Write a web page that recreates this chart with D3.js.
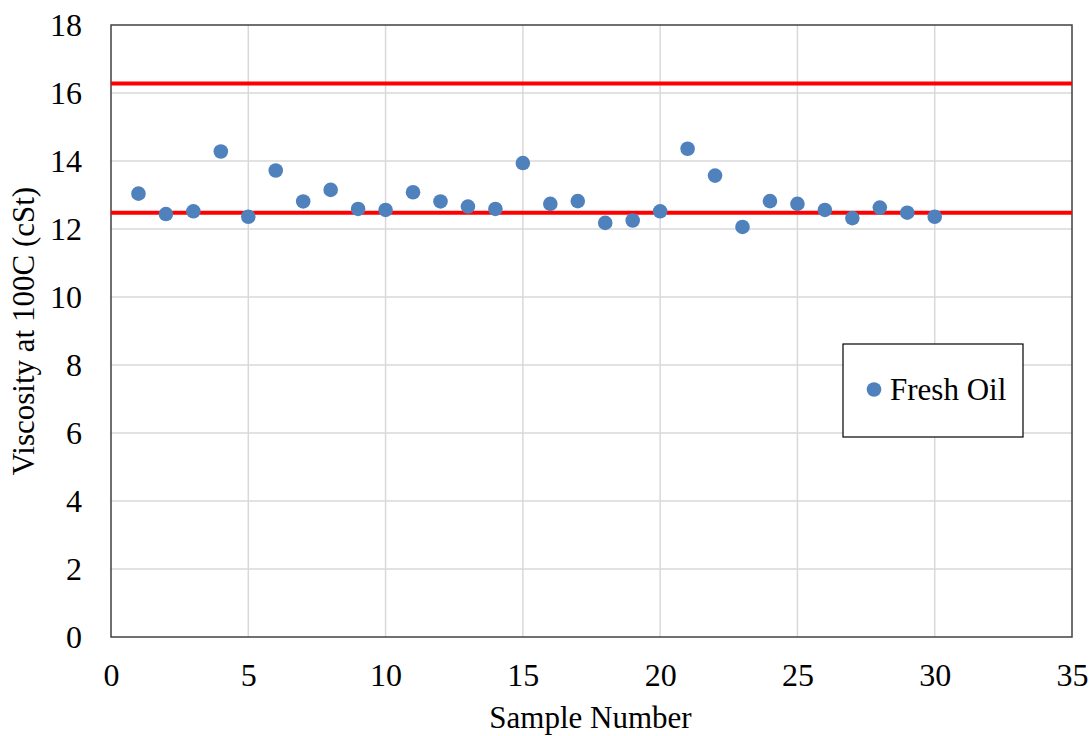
<!DOCTYPE html>
<html><head><meta charset="utf-8">
<script src="https://cdn.jsdelivr.net/npm/d3@7"></script>
<style>body{margin:0;background:#fff}svg{display:block}text{font-family:"Liberation Serif","Times New Roman",serif;fill:#000}</style>
</head><body><svg id="c" width="1090" height="736"></svg>
<script>
const sampleNumbers = d3.range(1, 31);
const viscosity = [13.04,12.44,12.52,14.28,12.36,13.72,12.81,13.15,12.59,12.56,13.08,12.81,12.66,12.59,13.94,12.74,12.82,12.18,12.25,12.52,14.36,13.57,12.06,12.82,12.74,12.56,12.32,12.63,12.48,12.36];
const limits = [16.28, 12.48];
const xTicks = [0,5,10,15,20,25,30,35];
const yTicks = [0,2,4,6,8,10,12,14,16,18];
const seriesName = "Fresh Oil";

const svg = d3.select("#c");
const L = 111, R = 1072, T = 25, B = 637;
const x = d3.scaleLinear().domain([0,35]).range([L,R]);
const y = d3.scaleLinear().domain([0,18]).range([B,T]);

// grid
svg.append("g").selectAll("line").data(xTicks.slice(1,-1)).join("line")
  .attr("x1",d=>x(d)).attr("x2",d=>x(d)).attr("y1",T).attr("y2",B)
  .attr("stroke","#d9d9d9").attr("stroke-width",1.5);
svg.append("g").selectAll("line").data(yTicks.slice(1,-1)).join("line")
  .attr("x1",L).attr("x2",R).attr("y1",d=>y(d)).attr("y2",d=>y(d))
  .attr("stroke","#d9d9d9").attr("stroke-width",1.5);

// frame
svg.append("rect").attr("x",L).attr("y",T).attr("width",R-L).attr("height",B-T)
  .attr("fill","none").attr("stroke","#404040").attr("stroke-width",1.5);

// axes
const xAxis = svg.append("g").attr("transform",`translate(0,${B})`)
  .call(d3.axisBottom(x).tickValues(xTicks).tickSize(0).tickPadding(0));
xAxis.select(".domain").remove();
xAxis.selectAll("text").attr("font-size",32).attr("font-family","Liberation Serif").attr("fill","#000")
  .attr("y",49).attr("dy",0);
const yAxis = svg.append("g").attr("transform",`translate(${L},0)`)
  .call(d3.axisLeft(y).tickValues(yTicks).tickSize(0).tickPadding(29));
yAxis.select(".domain").remove();
yAxis.selectAll("text").attr("font-size",32).attr("font-family","Liberation Serif").attr("fill","#000").attr("dy","0.34em");

// limit lines
svg.append("g").selectAll("line").data(limits).join("line")
  .attr("x1",L).attr("x2",R).attr("y1",d=>y(d)).attr("y2",d=>y(d))
  .attr("stroke","#ff0000").attr("stroke-width",4);

// points
svg.append("g").selectAll("circle").data(sampleNumbers).join("circle")
  .attr("cx",d=>x(d)).attr("cy",(d,i)=>y(viscosity[i])).attr("r",7.3)
  .attr("fill","#4f81bd");

// titles
svg.append("text").attr("x",(L+R)/2 - 1).attr("y",728).attr("text-anchor","middle")
  .attr("font-size",31).text("Sample Number");
svg.append("text").attr("transform",`translate(34,${(T+B)/2}) rotate(-90)`).attr("text-anchor","middle")
  .attr("font-size",31).text("Viscosity at 100C (cSt)");

// legend
const lg = svg.append("g");
lg.append("rect").attr("x",843).attr("y",344).attr("width",180).attr("height",93)
  .attr("fill","#fff").attr("stroke","#000").attr("stroke-width",1.2);
lg.append("circle").attr("cx",874).attr("cy",389.5).attr("r",7.3).attr("fill","#4f81bd");
lg.append("text").attr("x",890).attr("y",400).attr("font-size",31).text(seriesName);
</script></body></html>
